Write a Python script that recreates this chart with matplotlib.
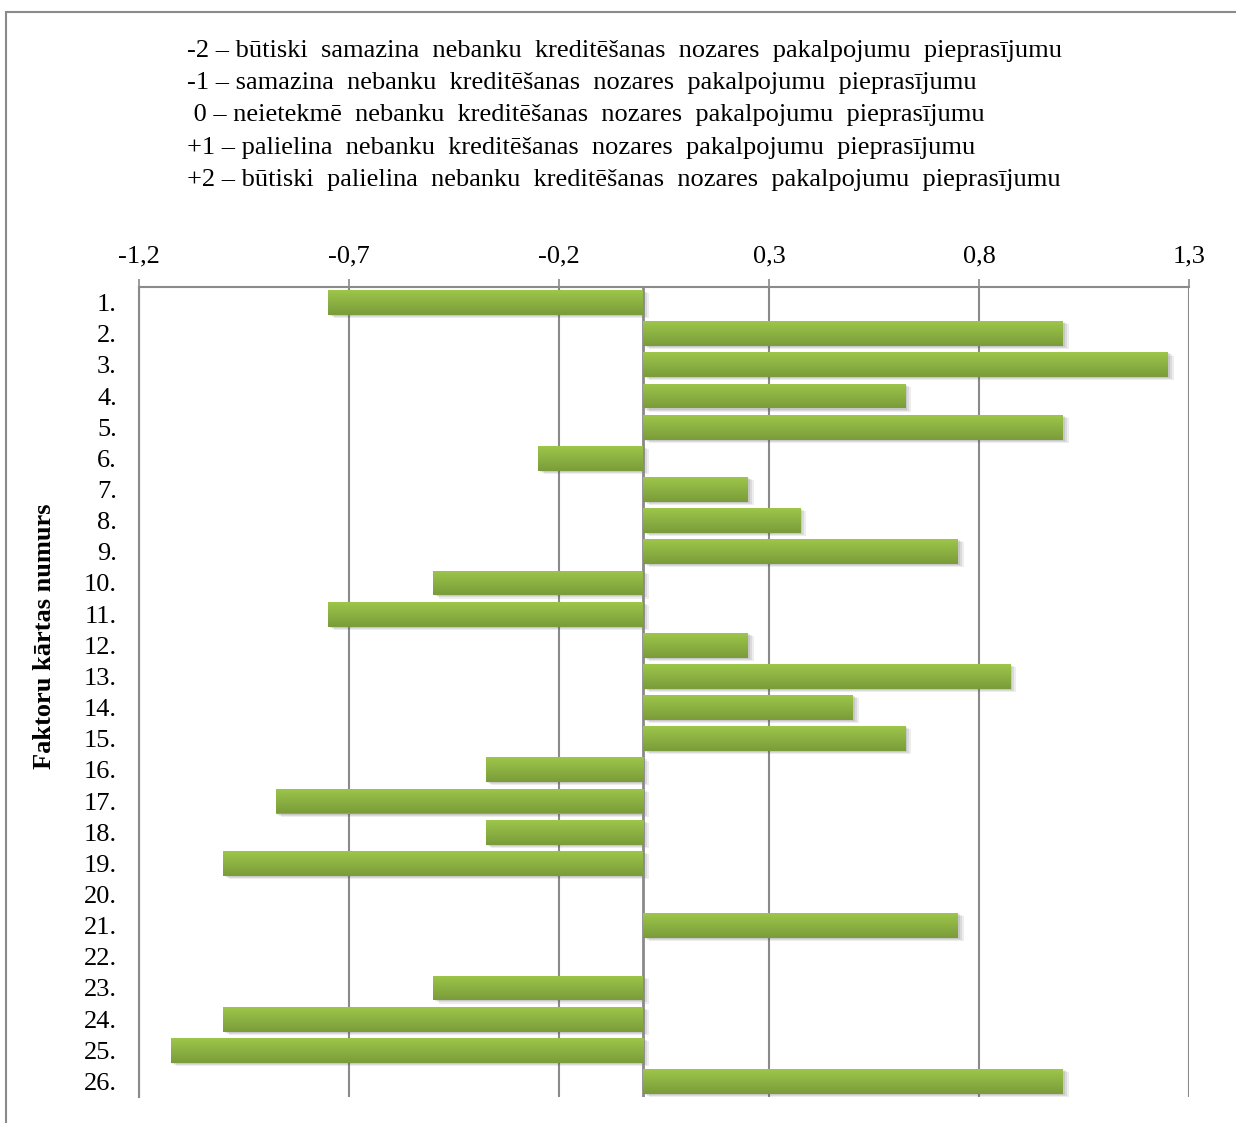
import numpy as np
import matplotlib.pyplot as plt
from matplotlib.patches import Rectangle
from matplotlib.ticker import FixedLocator, FuncFormatter

plt.rcParams['font.family'] = ['Liberation Serif', 'DejaVu Serif']

# factor numbers and their average effect on demand
factors = [f"{i}." for i in range(1, 27)]
values = [-0.75, 1.0, 1.25, 0.625, 1.0, -0.25, 0.25, 0.375, 0.75, -0.5,
          -0.75, 0.25, 0.875, 0.5, 0.625, -0.375, -0.875, -0.375, -1.0, 0.0,
          0.75, 0.0, -0.5, -1.0, -1.125, 1.0]
xticks = [-1.2, -0.7, -0.2, 0.3, 0.8, 1.3]
legend_lines = [
    "-2 \u2013 būtiski  samazina  nebanku  kreditēšanas  nozares  pakalpojumu  pieprasījumu",
    "-1 \u2013 samazina  nebanku  kreditēšanas  nozares  pakalpojumu  pieprasījumu",
    " 0 \u2013 neietekmē  nebanku  kreditēšanas  nozares  pakalpojumu  pieprasījumu",
    "+1 \u2013 palielina  nebanku  kreditēšanas  nozares  pakalpojumu  pieprasījumu",
    "+2 \u2013 būtiski  palielina  nebanku  kreditēšanas  nozares  pakalpojumu  pieprasījumu",
]

W, H = 1236, 1123
FS = 19
fig = plt.figure(figsize=(W / 100, H / 100), dpi=100)

# outer frame of the chart object (runs off the right/bottom edge)
fig.add_artist(Rectangle((6 / W, -0.05), 1.1, (H - 12) / H + 0.05,
                         transform=fig.transFigure, fill=False,
                         edgecolor='#8a8a8a', lw=1.5))

ax = fig.add_axes([139 / W, 1 - 1097 / H, (1189 - 139) / W, (1097 - 287) / H])
y = np.arange(len(factors))
bh = 0.8

# vertical gradient used for every bar
grad = np.linspace(0, 1, 64).reshape(-1, 1)
cmap = plt.matplotlib.colors.LinearSegmentedColormap.from_list(
    'g', ['#9dc64a', '#7a9c3a'])

for yi, v in zip(y, values):
    if v == 0:
        continue
    left = min(0, v)
    # soft shadow
    for k, a in [(0.045, 0.10), (0.03, 0.12), (0.015, 0.14)]:
        ax.add_patch(Rectangle((left + k * 0.3, yi - bh / 2 + k * 2.2), abs(v), bh,
                               facecolor='#555555', alpha=a, lw=0, zorder=2))
    bar = ax.barh(yi, v, height=bh, color='#8cb042', zorder=3)[0]
    im = ax.imshow(grad, cmap=cmap, aspect='auto', zorder=4,
                   extent=(left, left + abs(v), yi + bh / 2, yi - bh / 2))
    im.set_clip_path(bar)

ax.set_xlim(-1.2, 1.3)
ax.set_ylim(len(factors) - 0.5, -0.5)
ax.xaxis.set_major_locator(FixedLocator(xticks))
ax.xaxis.set_major_formatter(FuncFormatter(lambda v, p: f"{v:.1f}".replace('.', ',')))
ax.xaxis.tick_top()
ax.set_yticks(y)
ax.set_yticklabels(factors)
ax.tick_params(axis='x', length=6, width=1.2, color='#8a8a8a', labelsize=FS, pad=8)
ax.tick_params(axis='y', length=0, labelsize=FS, pad=16)

ax.grid(axis='x', color='#8a8a8a', lw=1.5, zorder=1)
for s in ['right', 'bottom']:
    ax.spines[s].set_visible(False)
for s in ['top', 'left']:
    ax.spines[s].set_color('#8a8a8a')
    ax.spines[s].set_linewidth(1.5)
ax.axvline(0, color='#8a8a8a', lw=2, zorder=2.5)

fig.text(45 / W, 1 - 636 / H, "Faktoru kārtas numurs", rotation=90,
         ha='center', va='center', fontsize=FS, fontweight='bold')

for i, line in enumerate(legend_lines):
    fig.text(187 / W, 1 - (51 + 32.2 * i) / H, line, ha='left', va='center',
             fontsize=FS)

fig.savefig('out.png', dpi=100)
